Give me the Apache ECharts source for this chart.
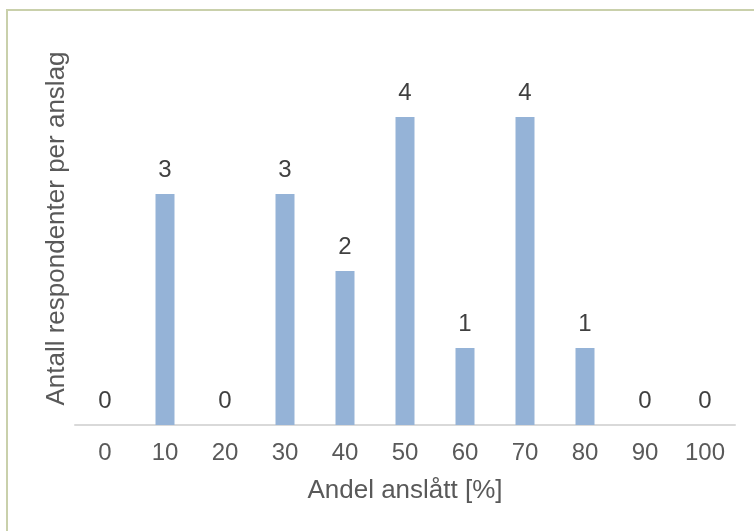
<!DOCTYPE html>
<html>
<head>
<meta charset="utf-8">
<script src="https://cdn.jsdelivr.net/npm/echarts@6/dist/echarts.min.js"></script>
<style>
  html, body { margin: 0; padding: 0; background: #ffffff; }
  #chart { width: 754px; height: 531px; }
</style>
</head>
<body>
<div id="chart"></div>
<script>
// Share of estimate (percent) and number of respondents per estimate
const categories = ['0', '10', '20', '30', '40', '50', '60', '70', '80', '90', '100'];
const respondents = [0, 3, 0, 3, 2, 4, 1, 4, 1, 0, 0];
const xTitle = 'Andel anslått [%]';
const yTitle = 'Antall respondenter per anslag';

const FONT = '"Liberation Sans", Arial, sans-serif';
const chart = echarts.init(document.getElementById('chart'), null, { renderer: 'canvas' });

chart.setOption({
  backgroundColor: '#ffffff',
  animation: false,
  graphic: [{
    type: 'rect',
    shape: { x: 7, y: 10, width: 800, height: 600 },
    style: { fill: 'none', stroke: '#c9d0ab', lineWidth: 2 },
    silent: true
  }],
  grid: { left: 75, right: 19, top: 40, bottom: 106 },
  xAxis: {
    type: 'category',
    data: categories,
    name: xTitle,
    nameLocation: 'middle',
    nameGap: 53,
    nameTextStyle: { fontFamily: FONT, fontSize: 26, color: '#595959' },
    axisLine: { lineStyle: { color: '#d9d9d9', width: 2 } },
    axisTick: { show: false },
    axisLabel: { fontFamily: FONT, fontSize: 24, color: '#595959', margin: 16 }
  },
  yAxis: {
    type: 'value',
    min: 0,
    max: 5,
    interval: 1,
    name: yTitle,
    nameLocation: 'middle',
    nameGap: 5,
    nameTextStyle: { fontFamily: FONT, fontSize: 26, color: '#595959', padding: [0, 0, 0, 8] },
    axisLine: { show: false },
    axisTick: { show: false },
    axisLabel: { show: false },
    splitLine: { show: false }
  },
  series: [{
    type: 'bar',
    data: respondents,
    barWidth: 19,
    itemStyle: { color: '#95b3d7' },
    label: {
      show: true,
      position: 'top',
      distance: 12,
      fontFamily: FONT,
      fontSize: 24,
      color: '#404040'
    }
  }]
});
</script>
</body>
</html>
